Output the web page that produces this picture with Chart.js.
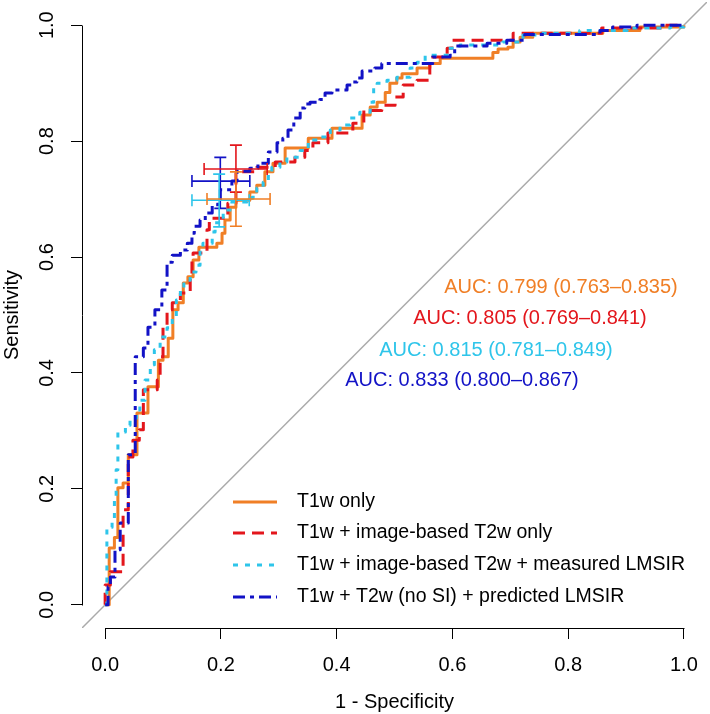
<!DOCTYPE html>
<html>
<head>
<meta charset="utf-8">
<title>ROC curves</title>
<script src="https://cdn.jsdelivr.net/npm/chart.js@4.4.1/dist/chart.umd.min.js"></script>
<style>
  html, body { margin: 0; padding: 0; background: #fff; }
  canvas { display: block; }
</style>
</head>
<body>
<canvas id="roc" width="710" height="714"></canvas>
<script>
// roc.js - four ROC curves (1 - specificity vs sensitivity).

const seriesNames = [
  "T1w only",
  "T1w + image-based T2w only",
  "T1w + image-based T2w + measured LMSIR",
  "T1w + T2w (no SI) + predicted LMSIR"
];
const seriesColors = ["#F07F26", "#E3161C", "#2EC5EA", "#1212C6"];
const seriesDashes = [[], [12, 7], [5, 7], [12, 5, 4, 5]];

// Each point is the top of a vertical step at that 1 - specificity.
const t1wFpr = [0, 0.007, 0.016, 0.022, 0.031, 0.040, 0.055, 0.074, 0.092, 0.100, 0.109, 0.117, 0.126, 0.135, 0.143, 0.152, 0.162, 0.193, 0.202, 0.207, 0.216, 0.226, 0.250, 0.262, 0.276, 0.290, 0.311, 0.351, 0.392, 0.444, 0.458, 0.470, 0.484, 0.492, 0.504, 0.513, 0.539, 0.561, 0.579, 0.670, 0.679, 0.696, 0.705, 0.717, 0.739, 0.860, 0.924, 1];
const t1wSens = [0, 0.098, 0.116, 0.202, 0.210, 0.259, 0.331, 0.376, 0.422, 0.428, 0.460, 0.509, 0.521, 0.555, 0.566, 0.595, 0.617, 0.624, 0.641, 0.664, 0.686, 0.698, 0.712, 0.724, 0.747, 0.762, 0.788, 0.805, 0.822, 0.845, 0.859, 0.867, 0.884, 0.900, 0.909, 0.916, 0.926, 0.934, 0.943, 0.953, 0.959, 0.962, 0.971, 0.979, 0.986, 0.991, 0.997, 1];

const t2wFpr = [0, 0, 0.009, 0.031, 0.040, 0.048, 0.059, 0.066, 0.090, 0.095, 0.100, 0.107, 0.116, 0.130, 0.147, 0.150, 0.152, 0.176, 0.180, 0.212, 0.226, 0.262, 0.294, 0.328, 0.345, 0.359, 0.385, 0.428, 0.447, 0.478, 0.501, 0.515, 0.539, 0.561, 0.591, 0.599, 0.705, 0.858, 0.967, 1];
const t2wSens = [0, 0.034, 0.057, 0.164, 0.255, 0.284, 0.302, 0.371, 0.388, 0.428, 0.479, 0.509, 0.521, 0.538, 0.564, 0.595, 0.607, 0.647, 0.667, 0.693, 0.747, 0.755, 0.764, 0.772, 0.784, 0.797, 0.814, 0.831, 0.853, 0.862, 0.876, 0.897, 0.905, 0.945, 0.960, 0.974, 0.986, 0.995, 1, 1];

const measuredFpr = [0, 0.003, 0.012, 0.016, 0.019, 0.022, 0.035, 0.043, 0.054, 0.060, 0.069, 0.078, 0.085, 0.095, 0.107, 0.116, 0.123, 0.130, 0.136, 0.147, 0.157, 0.164, 0.169, 0.185, 0.190, 0.204, 0.219, 0.245, 0.254, 0.262, 0.273, 0.282, 0.288, 0.302, 0.314, 0.337, 0.351, 0.368, 0.389, 0.406, 0.423, 0.440, 0.458, 0.464, 0.470, 0.487, 0.504, 0.527, 0.539, 0.553, 0.591, 0.613, 0.687, 0.722, 0.746, 0.820, 0.902, 0.976, 1];
const measuredSens = [0, 0.134, 0.143, 0.181, 0.233, 0.298, 0.310, 0.322, 0.336, 0.353, 0.388, 0.414, 0.440, 0.462, 0.478, 0.495, 0.526, 0.543, 0.560, 0.574, 0.586, 0.612, 0.624, 0.643, 0.659, 0.681, 0.695, 0.698, 0.703, 0.719, 0.729, 0.745, 0.755, 0.764, 0.772, 0.784, 0.802, 0.807, 0.819, 0.828, 0.840, 0.850, 0.867, 0.893, 0.900, 0.905, 0.910, 0.926, 0.936, 0.948, 0.960, 0.966, 0.971, 0.983, 0.986, 0.991, 0.995, 0.997, 1];

const predictedFpr = [0, 0.005, 0.009, 0.017, 0.026, 0.040, 0.052, 0.066, 0.074, 0.086, 0.098, 0.107, 0.116, 0.130, 0.142, 0.150, 0.154, 0.164, 0.173, 0.185, 0.195, 0.199, 0.219, 0.228, 0.250, 0.264, 0.282, 0.297, 0.307, 0.316, 0.326, 0.337, 0.345, 0.354, 0.371, 0.380, 0.392, 0.418, 0.427, 0.435, 0.444, 0.466, 0.478, 0.566, 0.596, 0.604, 0.660, 0.694, 0.725, 0.855, 0.877, 0.919, 1];
const predictedSens = [0, 0.031, 0.048, 0.095, 0.141, 0.259, 0.428, 0.443, 0.479, 0.509, 0.543, 0.591, 0.603, 0.612, 0.624, 0.641, 0.653, 0.664, 0.676, 0.690, 0.698, 0.716, 0.731, 0.748, 0.753, 0.762, 0.781, 0.797, 0.805, 0.819, 0.840, 0.857, 0.864, 0.867, 0.872, 0.883, 0.888, 0.897, 0.902, 0.909, 0.921, 0.926, 0.934, 0.945, 0.948, 0.964, 0.969, 0.974, 0.984, 0.991, 0.997, 1, 1];

// Confidence crosses (same order as seriesNames).
const ciFpr = [0.226, 0.226, 0.197, 0.199];
const ciFprLow = [0.176, 0.171, 0.150, 0.150];
const ciFprHigh = [0.285, 0.280, 0.249, 0.250];
const ciSens = [0.700, 0.752, 0.698, 0.731];
const ciSensLow = [0.653, 0.712, 0.652, 0.684];
const ciSensHigh = [0.747, 0.793, 0.743, 0.772];

const aucValues = [0.799, 0.805, 0.815, 0.833];
const aucLow = [0.763, 0.769, 0.781, 0.800];
const aucHigh = [0.835, 0.841, 0.849, 0.867];

const tickValues = [0, 0.2, 0.4, 0.6, 0.8, 1.0];
const tickLabels = ["0.0", "0.2", "0.4", "0.6", "0.8", "1.0"];
const chanceLine = [-0.04, 1.04];

// Layout of the annotations, in pixels.
const aucTextCenters = [[561, 287], [530, 318], [496, 350], [462, 380]];
const legendLineX = [233, 277];
const legendTextX = 297;
const legendRowY = [502, 533, 565, 597];

const FONT = "'Liberation Sans', Arial, Helvetica, sans-serif";
Chart.defaults.font.family = FONT;
Chart.defaults.color = "#000";

const curves = [
  [t1wFpr, t1wSens],
  [t2wFpr, t2wSens],
  [measuredFpr, measuredSens],
  [predictedFpr, predictedSens]
];

const rocDecor = {
  id: "rocDecor",
  beforeDatasetsDraw(chart) {
    const { ctx, chartArea, scales } = chart;
    const x = scales.x;
    const y = scales.y;
    const ax = Math.round(chartArea.left) + 0.5;
    const ay = Math.round(chartArea.bottom) + 0.5;
    ctx.save();
    ctx.strokeStyle = "#000";
    ctx.lineWidth = 1;
    ctx.beginPath();
    ctx.moveTo(ax, Math.round(y.getPixelForValue(0)) + 0.5);
    ctx.lineTo(ax, Math.round(y.getPixelForValue(1)) + 0.5);
    ctx.moveTo(Math.round(x.getPixelForValue(0)) + 0.5, ay);
    ctx.lineTo(Math.round(x.getPixelForValue(1)) + 0.5, ay);
    ctx.stroke();
    ctx.restore();
  },
  afterDatasetsDraw(chart) {
    const { ctx, scales } = chart;
    const x = scales.x;
    const y = scales.y;
    const cap = 6;

    ctx.save();
    // CI crosses
    ctx.lineWidth = 1.6;
    for (let i = seriesNames.length - 1; i >= 0; i--) {
      const cx = x.getPixelForValue(ciFpr[i]);
      const cy = y.getPixelForValue(ciSens[i]);
      const x0 = x.getPixelForValue(ciFprLow[i]);
      const x1 = x.getPixelForValue(ciFprHigh[i]);
      const y0 = y.getPixelForValue(ciSensLow[i]);
      const y1 = y.getPixelForValue(ciSensHigh[i]);
      ctx.strokeStyle = seriesColors[i];
      ctx.beginPath();
      ctx.moveTo(x0, cy); ctx.lineTo(x1, cy);
      ctx.moveTo(x0, cy - cap); ctx.lineTo(x0, cy + cap);
      ctx.moveTo(x1, cy - cap); ctx.lineTo(x1, cy + cap);
      ctx.moveTo(cx, y0); ctx.lineTo(cx, y1);
      ctx.moveTo(cx - cap, y0); ctx.lineTo(cx + cap, y0);
      ctx.moveTo(cx - cap, y1); ctx.lineTo(cx + cap, y1);
      ctx.stroke();
    }

    // AUC labels
    ctx.font = "20px " + FONT;
    ctx.textAlign = "center";
    ctx.textBaseline = "middle";
    aucValues.forEach((auc, i) => {
      ctx.fillStyle = seriesColors[i];
      const text = `AUC: ${auc.toFixed(3)} (${aucLow[i].toFixed(3)}\u2013${aucHigh[i].toFixed(3)})`;
      ctx.fillText(text, aucTextCenters[i][0], aucTextCenters[i][1]);
    });

    // Legend
    ctx.font = "19.5px " + FONT;
    ctx.textAlign = "left";
    seriesNames.forEach((name, i) => {
      const ly = legendRowY[i];
      ctx.strokeStyle = seriesColors[i];
      ctx.lineWidth = 3;
      ctx.setLineDash(seriesDashes[i]);
      ctx.beginPath();
      ctx.moveTo(legendLineX[0], ly);
      ctx.lineTo(legendLineX[1], ly);
      ctx.stroke();
      ctx.setLineDash([]);
      ctx.fillStyle = "#000";
      ctx.fillText(name, legendTextX, ly);
    });
    ctx.restore();
  }
};

document.addEventListener("DOMContentLoaded", () => {
  const datasets = curves.map(([fpr, sens], i) => ({
    label: seriesNames[i],
    data: fpr.map((f, j) => ({ x: f, y: sens[j] })),
    borderColor: seriesColors[i],
    borderWidth: 3,
    borderDash: seriesDashes[i],
    borderJoinStyle: "round",
    stepped: "before",
    pointRadius: 0,
    fill: false,
    order: 4 - i
  }));

  // chance diagonal
  datasets.push({
    label: "chance",
    data: chanceLine.map((v) => ({ x: v, y: v })),
    borderColor: "#AAAAAA",
    borderWidth: 1.5,
    pointRadius: 0,
    fill: false,
    order: 10
  });

  const axisTicks = (scale) => {
    scale.ticks = tickValues.map((v) => ({ value: v }));
  };

  new Chart(document.getElementById("roc"), {
    type: "line",
    data: { datasets },
    options: {
      responsive: false,
      animation: false,
      layout: { padding: { top: 2, right: 3, left: 0, bottom: 0 } },
      plugins: {
        legend: { display: false },
        tooltip: { enabled: false }
      },
      scales: {
        x: {
          type: "linear",
          min: -0.04,
          max: 1.04,
          afterBuildTicks: axisTicks,
          afterFit: (scale) => {
            scale.height = 86;
            scale.paddingLeft = 0;
            scale.paddingRight = 0;
          },
          border: { display: false },
          grid: { drawOnChartArea: false, drawTicks: true, tickLength: 11, color: "#000", lineWidth: 1 },
          ticks: {
            autoSkip: false,
            maxRotation: 0,
            padding: 14,
            color: "#000",
            font: { size: 20 },
            callback: (v, i) => tickLabels[i]
          },
          title: {
            display: true,
            text: "1 - Specificity",
            color: "#000",
            font: { size: 20 },
            padding: { top: 0, bottom: 0 }
          }
        },
        y: {
          type: "linear",
          min: -0.04,
          max: 1.04,
          afterBuildTicks: axisTicks,
          afterFit: (scale) => {
            scale.width = 82;
            scale.paddingTop = 0;
            scale.paddingBottom = 0;
          },
          border: { display: false },
          grid: { drawOnChartArea: false, drawTicks: true, tickLength: 11, color: "#000", lineWidth: 1 },
          ticks: {
            autoSkip: false,
            minRotation: 90,
            maxRotation: 90,
            crossAlign: "center",
            padding: 10,
            color: "#000",
            font: { size: 20 },
            callback: (v, i) => tickLabels[i]
          },
          title: {
            display: true,
            text: "Sensitivity",
            color: "#000",
            font: { size: 20 },
            padding: { top: 0, bottom: 0 }
          }
        }
      }
    },
    plugins: [rocDecor]
  });
});
</script>
</body>
</html>
